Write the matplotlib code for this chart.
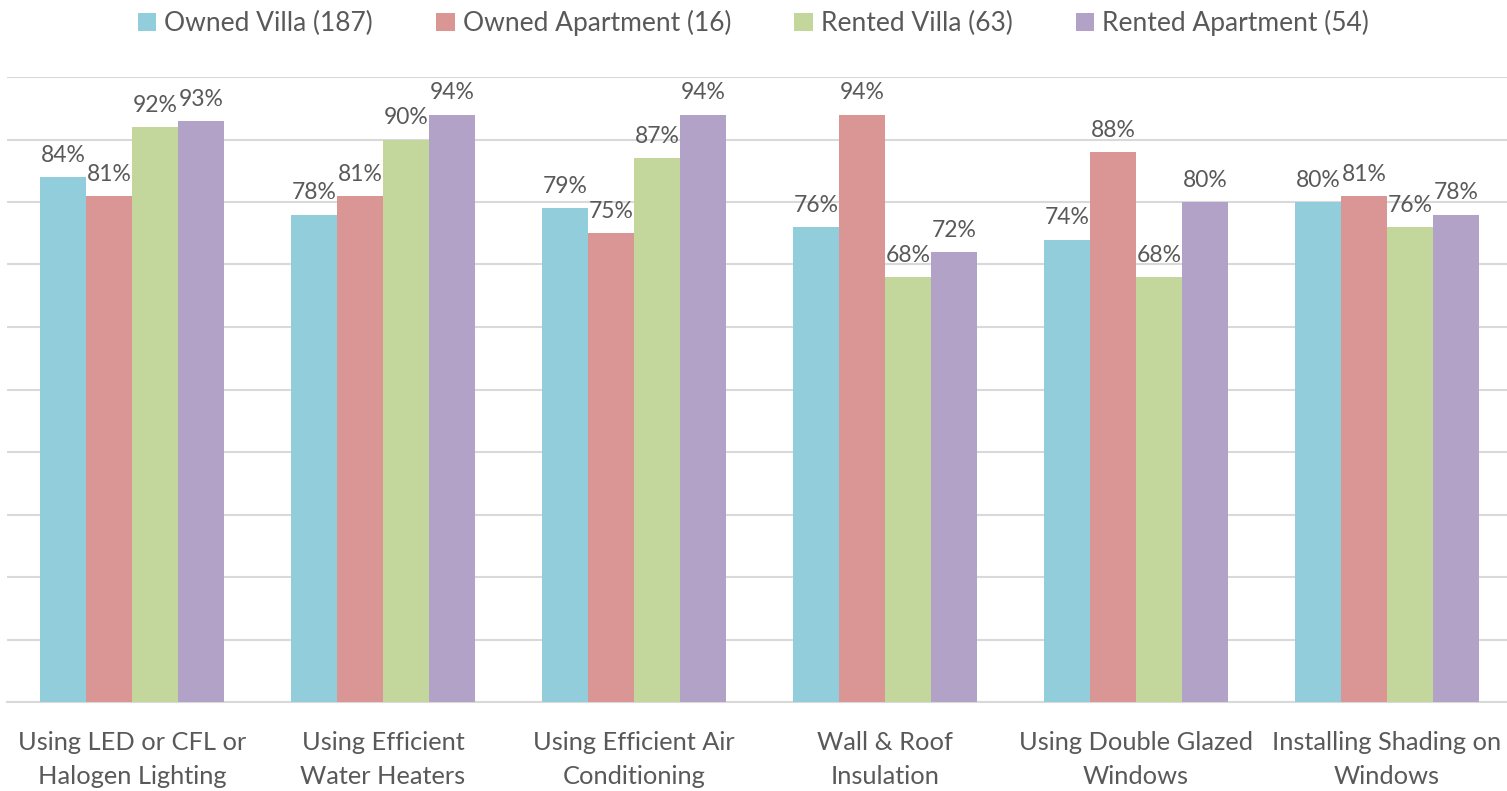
import matplotlib
matplotlib.use("Agg")
import matplotlib.pyplot as plt
import numpy as np

categories = ["Using LED or CFL or\nHalogen Lighting", "Using Efficient\nWater Heaters",
              "Using Efficient Air\nConditioning", "Wall & Roof\nInsulation",
              "Using Double Glazed\nWindows", "Installing Shading on\nWindows"]
series_names = ["Owned Villa (187)", "Owned Apartment (16)", "Rented Villa (63)", "Rented Apartment (54)"]
owned_villa = [0.84, 0.78, 0.79, 0.76, 0.74, 0.80]
owned_apartment = [0.81, 0.81, 0.75, 0.94, 0.88, 0.81]
rented_villa = [0.92, 0.90, 0.87, 0.68, 0.68, 0.76]
rented_apartment = [0.93, 0.94, 0.94, 0.72, 0.80, 0.78]
colors = ["#92CDDC", "#D99694", "#C3D69B", "#B3A2C7"]

plt.rcParams['font.family'] = ['Lato', 'DejaVu Sans']
text_color = "#595959"

fig = plt.figure(figsize=(15.07, 7.91), dpi=100)
ax = fig.add_axes([6.5/1507, 89/791, 1506/1507, 625/791])

series = [owned_villa, owned_apartment, rented_villa, rented_apartment]
x = np.arange(len(categories))
bw = 46/251
for i, (vals, name, c) in enumerate(zip(series, series_names, colors)):
    pos = x + (i - 1.5) * bw
    bars = ax.bar(pos, vals, width=bw, color=c, label=name, zorder=3)
    for b, v in zip(bars, vals):
        ax.annotate(f"{round(v*100):d}%", (b.get_x() + b.get_width()/2, v),
                    xytext=(0, 8), textcoords="offset points", ha="center", va="bottom",
                    fontsize=16.5, color=text_color)

ax.set_xlim(-0.5, len(categories) - 0.5)
ax.set_ylim(0, 1)
ax.set_yticks(np.arange(0, 1.01, 0.1))
ax.yaxis.grid(True, color="#D9D9D9", linewidth=1.5, zorder=0)
ax.tick_params(axis='y', left=False, labelleft=False)
ax.set_xticks(x)
ax.set_xticklabels(categories, fontsize=18.3, color=text_color, linespacing=1.55)
ax.tick_params(axis='x', length=0, pad=21)
for s in ["top", "right", "left"]:
    ax.spines[s].set_visible(False)
ax.spines["bottom"].set_color("#D9D9D9")
ax.spines["bottom"].set_linewidth(1.5)

leg = fig.legend(loc="center", bbox_to_anchor=(0.5, 1 - 23/791), ncol=4, frameon=False,
                 fontsize=19, handlelength=0.7, handleheight=0.7, handletextpad=0.3,
                 columnspacing=2.4, borderpad=0)
for t in leg.get_texts():
    t.set_color(text_color)

fig.savefig("out.png", dpi=100)
